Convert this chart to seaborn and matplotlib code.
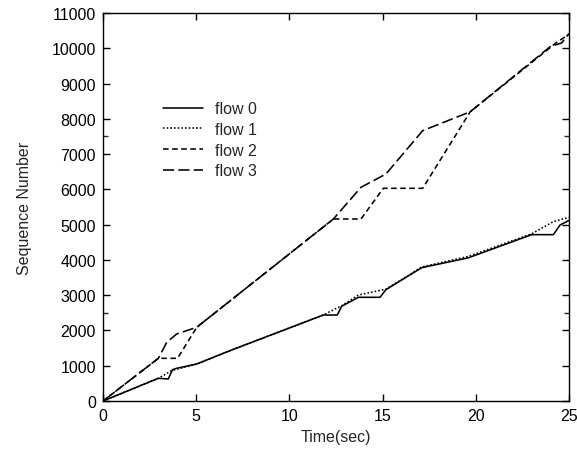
import numpy as np
import pandas as pd
import matplotlib
matplotlib.use('Agg')
import matplotlib.pyplot as plt
import seaborn as sns

# sequence number traces
t_flow0 = [0, 2.97, 3.5, 3.73, 3.95, 5.03, 6.81, 11.82, 12.57, 12.8, 13.7, 14.86, 15.18, 16.11, 17.1, 19.6, 23.0, 24.16, 24.52, 25.0]
s_flow0 = [0, 644, 624, 888, 927, 1049, 1427, 2438, 2438, 2684, 2940, 2940, 3157, 3459, 3780, 4060, 4716, 4716, 4990, 5120]

t_flow1 = [0, 2.97, 3.68, 5.03, 6.81, 11.82, 12.8, 13.7, 15.18, 16.11, 17.1, 19.6, 23.0, 24.16, 25.0]
s_flow1 = [0, 644, 860, 1049, 1427, 2438, 2700, 3005, 3170, 3470, 3800, 4100, 4740, 5085, 5208]

t_flow2 = [0, 2.97, 4.0, 5.03, 12.36, 13.84, 15.04, 17.15, 19.7, 24.3, 25.0]
s_flow2 = [0, 1210, 1210, 2090, 5160, 5160, 6030, 6030, 8200, 10150, 10400]

t_flow3 = [0, 2.97, 3.42, 3.95, 5.03, 12.36, 13.84, 15.18, 17.15, 19.7, 24.0, 24.6, 25.0]
s_flow3 = [0, 1210, 1664, 1900, 2090, 5160, 6058, 6436, 7664, 8200, 10050, 10150, 10420]

flow_names = ['flow 0', 'flow 1', 'flow 2', 'flow 3']
x_ticks = [0, 5, 10, 15, 20, 25]
y_ticks = list(range(0, 11001, 1000))

df = pd.concat([
    pd.DataFrame({'t': t_flow0, 'seq': s_flow0, 'flow': 'flow 0'}),
    pd.DataFrame({'t': t_flow1, 'seq': s_flow1, 'flow': 'flow 1'}),
    pd.DataFrame({'t': t_flow2, 'seq': s_flow2, 'flow': 'flow 2'}),
    pd.DataFrame({'t': t_flow3, 'seq': s_flow3, 'flow': 'flow 3'}),
], ignore_index=True)

sns.set_style('ticks')
plt.rcParams['font.family'] = ['Liberation Sans', 'DejaVu Sans']
FS = 11.5

fig = plt.figure(figsize=(5.77, 4.52), dpi=100)
ax = fig.add_axes([103/577, 1 - 402/452, 466/577, 388/452])

dashes = {'flow 0': '', 'flow 1': (1, 1.3), 'flow 2': (3.5, 2.2), 'flow 3': (7, 2.6)}
sns.lineplot(data=df, x='t', y='seq', style='flow', style_order=flow_names,
             dashes=dashes, color='black', estimator=None, sort=False,
             linewidth=1.15, ax=ax)

ax.set_xlim(0, 25)
ax.set_ylim(0, 11000)
ax.set_xticks(x_ticks)
ax.set_yticks(y_ticks)
ax.set_yticks([2500, 7500], minor=True)
ax.tick_params(which='major', direction='in', length=5, width=1, top=True, right=True,
               labelsize=FS, colors='black', pad=5)
ax.tick_params(which='minor', direction='in', length=3.5, width=1, left=True, right=True)
for sp in ax.spines.values():
    sp.set_visible(True)
    sp.set_linewidth(1)
    sp.set_color('black')

ax.set_xlabel('Time(sec)', fontsize=FS, labelpad=4.5)
ax.set_ylabel('Sequence Number', fontsize=FS, labelpad=14.5)

leg = ax.legend(loc='upper left', bbox_to_anchor=(0.128, 0.772), frameon=False,
                fontsize=FS, handlelength=2.5, handletextpad=0.75,
                labelspacing=0.35, borderpad=0, borderaxespad=0)
for h in leg.get_lines():
    h.set_color('black')

fig.savefig('out.png', dpi=100)
